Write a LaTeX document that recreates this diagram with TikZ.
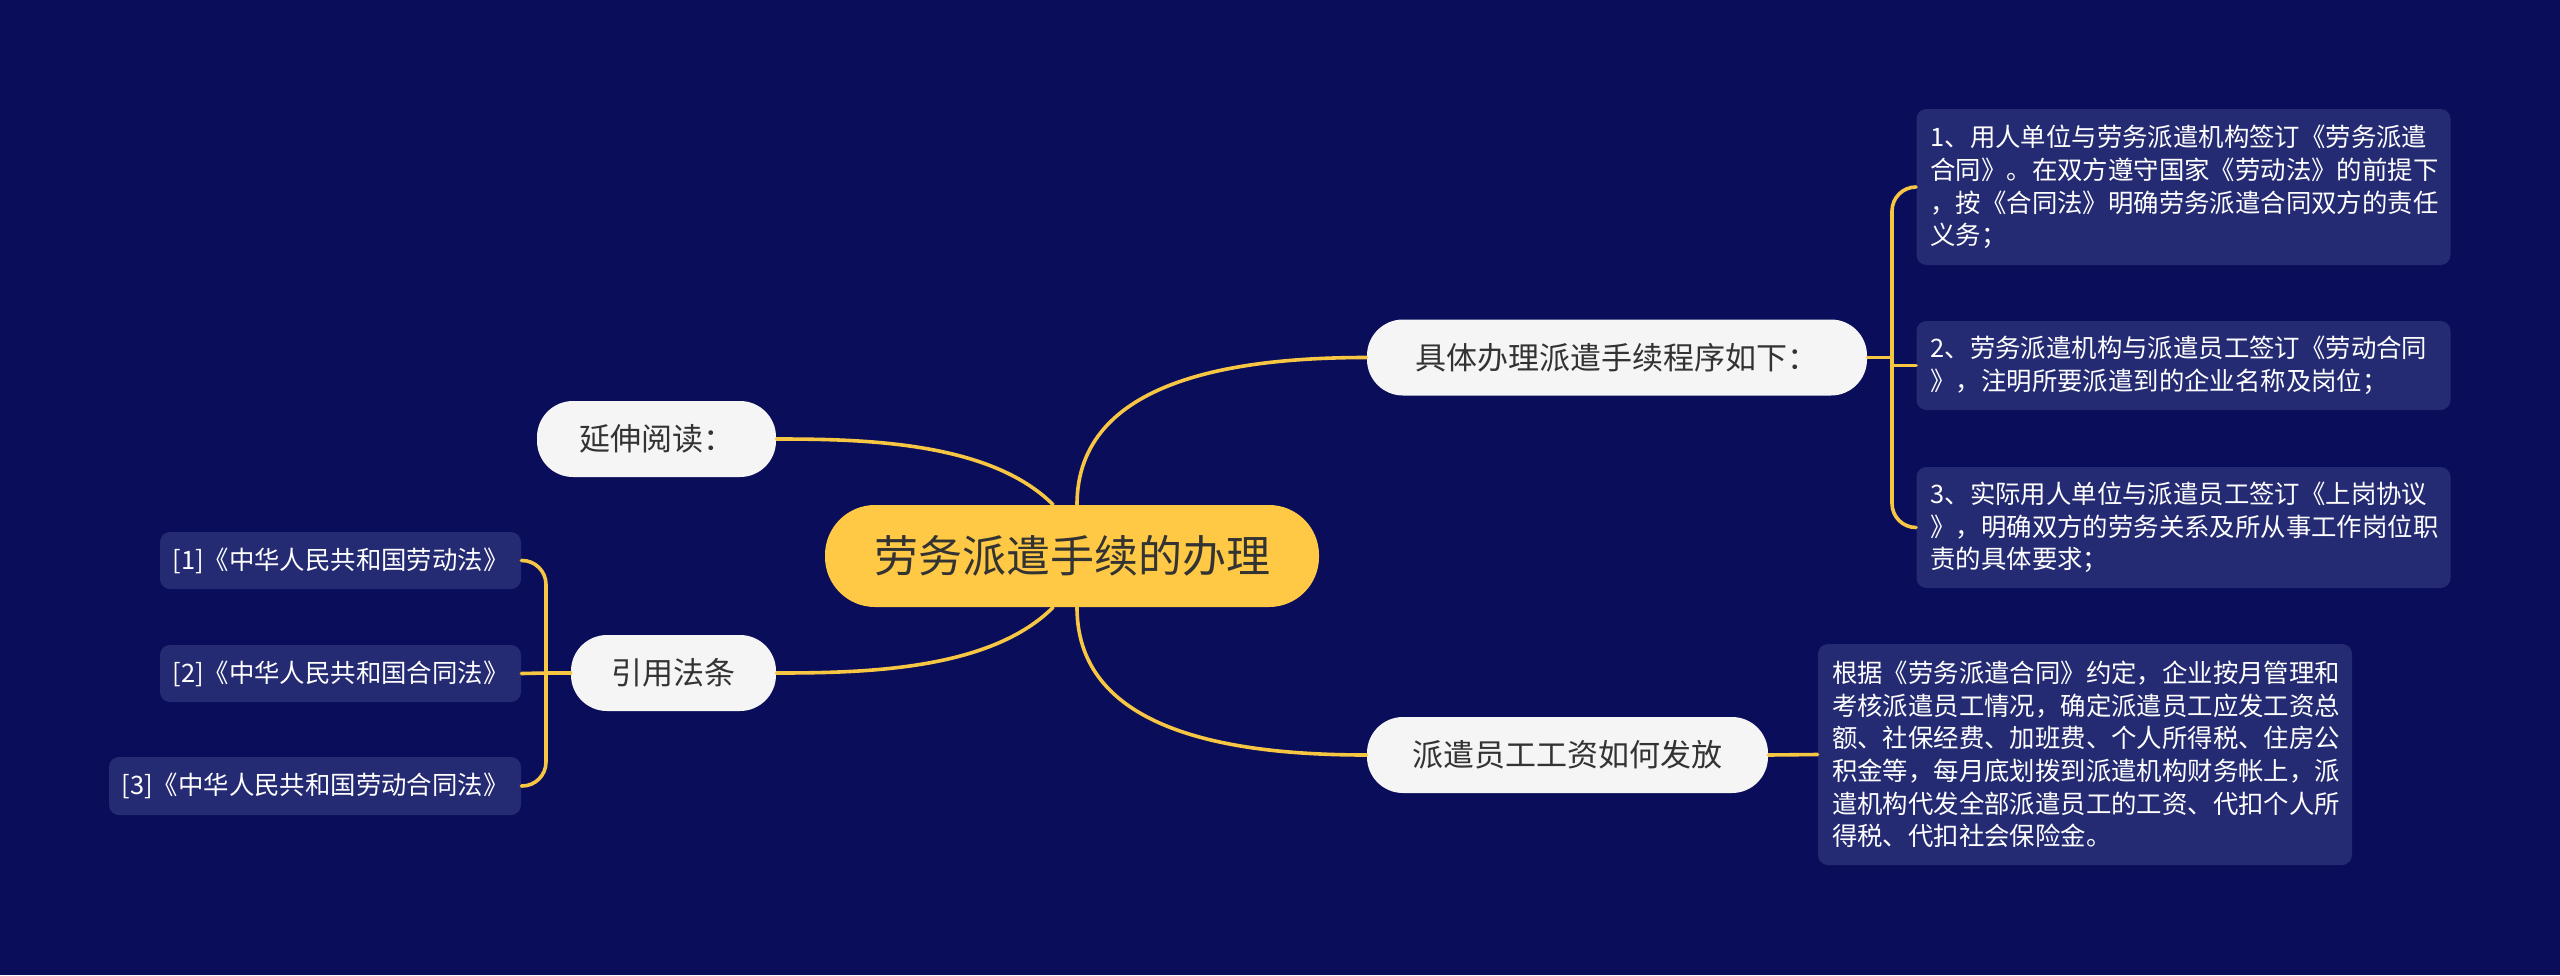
\documentclass[tikz,border=0pt]{standalone}
\usepackage{fontspec}
\setmainfont{Noto Sans CJK SC}
\usepackage{xcolor}
\usepackage{tikz}
\definecolor{bg}{HTML}{0A0D5A}
\definecolor{leafbg}{HTML}{252B73}
\definecolor{pill}{HTML}{F5F5F5}
\definecolor{gold}{HTML}{FFC945}
\definecolor{wire}{HTML}{F7C744}
\definecolor{ink}{HTML}{333333}
\tikzset{
  link/.style={draw=wire, line width=1.8pt, line cap=round},
  root/.style={fill=gold, text=ink, rounded corners=25pt, minimum width=247pt, minimum height=51pt, font=\fontsize{22}{26}\selectfont},
  branch/.style={fill=pill, text=ink, rounded corners=18pt, minimum height=38pt, font=\fontsize{15.5}{19}\selectfont},
  leaf/.style={fill=leafbg, text=white, rounded corners=5pt, font=\fontsize{12.7}{16.35}\selectfont},
  note/.style={leaf, align=left, text width=253pt, inner xsep=7pt}
}

\begin{document}
\begin{tikzpicture}[x=0.5pt,y=-0.5pt]
  \fill[bg] (0,0) rectangle (2560,975);
  \useasboundingbox (0,0) rectangle (2560,975);
  % main and branches
  \node[root] (main) at (1072,556) {劳务派遣手续的办理};
  \node[branch, minimum width=250pt] (steps) at (1617,357.5) {具体办理派遣手续程序如下：};
  \node[branch, minimum width=200.5pt] (pay) at (1567.5,755) {派遣员工工资如何发放};
  \node[branch, minimum width=119.5pt] (more) at (656.5,439) {延伸阅读：};
  \node[branch, minimum width=102.5pt] (laws) at (673.5,673) {引用法条};
  % leaves
  \node[note, minimum height=78pt] (s1) at (2183.5,187) {1、用人单位与劳务派遣机构签订《劳务派遣\\合同》。在双方遵守国家《劳动法》的前提下\\，按《合同法》明确劳务派遣合同双方的责任\\义务；};
  \node[note, minimum height=44.5pt] (s2) at (2183.5,365.5) {2、劳务派遣机构与派遣员工签订《劳动合同\\》，注明所要派遣到的企业名称及岗位；};
  \node[note, minimum height=60.5pt] (s3) at (2183.5,527.5) {3、实际用人单位与派遣员工签订《上岗协议\\》，明确双方的劳务关系及所从事工作岗位职\\责的具体要求；};
  \node[note, minimum height=110.5pt] (paytxt) at (2085,754.5) {根据《劳务派遣合同》约定，企业按月管理和\\考核派遣员工情况，确定派遣员工应发工资总\\额、社保经费、加班费、个人所得税、住房公\\积金等，每月底划拨到派遣机构财务帐上，派\\遣机构代发全部派遣员工的工资、代扣个人所\\得税、代扣社会保险金。};
  \node[leaf, minimum width=180.5pt, minimum height=28.5pt] (law1) at (340.5,560.5) {[1]《中华人民共和国劳动法》};
  \node[leaf, minimum width=180.5pt, minimum height=28.5pt] (law2) at (340.5,673.5) {[2]《中华人民共和国合同法》};
  \node[leaf, minimum width=206pt, minimum height=29pt] (law3) at (315,786) {[3]《中华人民共和国劳动合同法》};
  % connectors
  \coordinate (stepsjoin) at (1892,357.5);
  \coordinate (lawsjoin) at (546,673);
  \draw[link] ([xshift=2.5pt]main.north) to[out=90,in=180] (steps.west);
  \draw[link] ([xshift=2.5pt]main.south) to[out=-90,in=180] (pay.west);
  \draw[link] ([xshift=-9.5pt]main.north) to[out=135,in=0,looseness=0.8] (more.east);
  \draw[link] ([xshift=-9.5pt]main.south) to[out=-135,in=0,looseness=0.8] (laws.east);
  \draw[link] (steps.east) -- (stepsjoin);
  \foreach \s in {s1,s3}{
    \draw[link, rounded corners=12pt] (stepsjoin) |- (\s.west);
  }
  \draw[link] (stepsjoin) |- (s2.west);
  \draw[link] (laws.west) -- (lawsjoin);
  \foreach \l in {law1,law3}{
    \draw[link, rounded corners=12pt] (lawsjoin) |- (\l.east);
  }
  \draw[link] (lawsjoin) -- (law2.east);
  \draw[link] (pay.east) -- (paytxt.west);
\end{tikzpicture}
\end{document}
